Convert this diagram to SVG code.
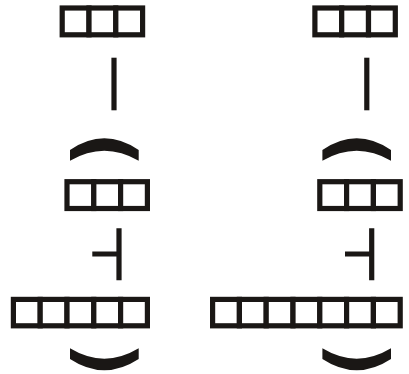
<svg xmlns="http://www.w3.org/2000/svg" width="409" height="374" viewBox="0 0 409 374">
  <style>
    .cell{fill:#fff;stroke:#1a1715;stroke-width:5.2}
    .bar{fill:none;stroke:#1a1715;stroke-width:5.2}
    .arc{fill:#1a1715}
  </style>
  <rect width="409" height="374" fill="#fff"/>
  <g id="left-top-box" class="cell"><rect x="62.2" y="8" width="26.8" height="26.8"/><rect x="89" y="8" width="26.8" height="26.8"/><rect x="115.8" y="8" width="26.8" height="26.8"/></g>
  <g id="left-mid-box" class="cell"><rect x="67" y="181.7" width="26.8" height="26.8"/><rect x="93.8" y="181.7" width="26.8" height="26.8"/><rect x="120.6" y="181.7" width="26.8" height="26.8"/></g>
  <g id="left-bottom-box" class="cell"><rect x="13.4" y="299.4" width="26.8" height="26.4"/><rect x="40.2" y="299.4" width="26.8" height="26.4"/><rect x="67" y="299.4" width="26.8" height="26.4"/><rect x="93.8" y="299.4" width="26.8" height="26.4"/><rect x="120.6" y="299.4" width="26.8" height="26.4"/></g>
  <g id="right-top-box" class="cell"><rect x="314.9" y="8" width="26.8" height="26.8"/><rect x="341.7" y="8" width="26.8" height="26.8"/><rect x="368.5" y="8" width="26.8" height="26.8"/></g>
  <g id="right-mid-box" class="cell"><rect x="319.8" y="181.7" width="26.8" height="26.8"/><rect x="346.6" y="181.7" width="26.8" height="26.8"/><rect x="373.4" y="181.7" width="26.8" height="26.8"/></g>
  <g id="right-bottom-box" class="cell"><rect x="212.6" y="299.4" width="26.8" height="26.4"/><rect x="239.4" y="299.4" width="26.8" height="26.4"/><rect x="266.2" y="299.4" width="26.8" height="26.4"/><rect x="293" y="299.4" width="26.8" height="26.4"/><rect x="319.8" y="299.4" width="26.8" height="26.4"/><rect x="346.6" y="299.4" width="26.8" height="26.4"/><rect x="373.4" y="299.4" width="26.8" height="26.4"/></g>
  <g id="connectors">
    <path class="bar" d="M114 57.7V110.3"/>
    <path class="bar" d="M366.8 57.7V110.3"/>
    <path class="bar" d="M119 228.3V280.3M119 254H92.3"/>
    <path class="bar" d="M371.7 228.3V280.3M371.7 254H345"/>
  </g>
  <g id="left-upper-arc"><path class="arc" d="M70 150Q104.3 126.6 138.7 150V160.7Q104.3 140.7 70 160.7Z"/></g>
  <g id="left-lower-arc"><path class="arc" d="M70 348.3Q104.3 369 138.7 348.3V359Q104.3 381.5 70 359Z"/></g>
  <g id="right-upper-arc"><path class="arc" d="M322.4 150Q356.7 126.6 391 150V160.7Q356.7 140.7 322.4 160.7Z"/></g>
  <g id="right-lower-arc"><path class="arc" d="M322.4 348.3Q356.7 369 391 348.3V359Q356.7 381.5 322.4 359Z"/></g>
</svg>
